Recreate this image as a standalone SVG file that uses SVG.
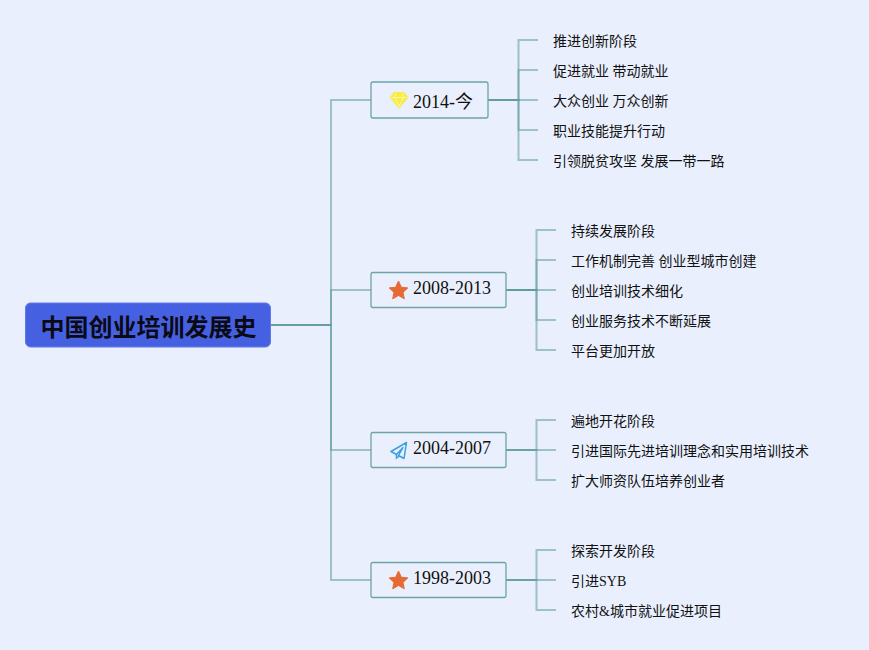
<svg xmlns="http://www.w3.org/2000/svg" width="869" height="650" viewBox="0 0 869 650">
<style>
.c{fill:none;stroke:#5f9a9c;stroke-opacity:.55;stroke-width:2}
.box{fill:#e9effd;stroke:#6da4a8;stroke-width:1.3}
.year{font-family:"Liberation Serif","Noto Sans CJK SC",serif;font-size:18px;fill:#111}
.leaf{font-family:"Liberation Serif","Noto Sans CJK SC",serif;font-size:14px;fill:#111}
.star{fill:#e76a35;stroke:#e76a35;stroke-width:1;stroke-linejoin:round}
</style>
<defs>
<polygon id="star" class="star" points="0,-9.500 2.900,-3.200 9.300,-2.600 4.500,1.900 5.800,8.300 0,5 -5.800,8.300 -4.500,1.900 -9.300,-2.600 -2.900,-3.200"/>
</defs>
<rect width="869" height="650" fill="#e9effd"/>
<g id="connectors">
<path class="c" d="M271 325H331V100H371"/>
<path class="c" d="M271 325H331V290H371"/>
<path class="c" d="M271 325H331V450H371"/>
<path class="c" d="M271 325H331V580H371"/>
<path class="c" d="M488 100H518.500V40H538"/>
<path class="c" d="M488 100H518.500V70H538"/>
<path class="c" d="M488 100H538"/>
<path class="c" d="M488 100H518.500V130H538"/>
<path class="c" d="M488 100H518.500V160H538"/>
<path class="c" d="M506 290H536.500V230H556"/>
<path class="c" d="M506 290H536.500V260H556"/>
<path class="c" d="M506 290H556"/>
<path class="c" d="M506 290H536.500V320H556"/>
<path class="c" d="M506 290H536.500V350H556"/>
<path class="c" d="M506 450H536.500V420H556"/>
<path class="c" d="M506 450H556"/>
<path class="c" d="M506 450H536.500V480H556"/>
<path class="c" d="M506 580H536.500V550H556"/>
<path class="c" d="M506 580H556"/>
<path class="c" d="M506 580H536.500V610H556"/>
</g>
<g id="root">
<rect x="25.500" y="303" width="245" height="44" rx="5" fill="#4660e2" stroke="#6379e8" stroke-width="1"/>
<text x="148.500" y="336" text-anchor="middle" font-family="'Liberation Sans','Noto Sans CJK SC',sans-serif" font-size="24" font-weight="700" fill="#0a0a14">中国创业培训发展史</text>
</g>
<g id="n2014">
<rect class="box" x="371" y="82" width="117" height="36" rx="2"/>
<path d="M394 92H404L408.500 97.500L399 108.500L389.500 97.500Z" fill="#f6ec45"/>
<path d="M391 97.500H407M396 93L394.500 97.500L399 106.500L403.500 97.500L402 93" fill="none" stroke="#fdf9b5" stroke-width=".8"/>
<text class="year" x="413" y="108">2014-今</text>
</g>
<g id="n2008">
<rect class="box" x="371" y="272.500" width="135" height="35" rx="2"/>
<use href="#star" x="398.500" y="290.500"/>
<text class="year" x="413" y="294">2008-2013</text>
</g>
<g id="n2004">
<rect class="box" x="371" y="432.500" width="135" height="35" rx="2"/>
<path d="M406.500 442.500L391 451.500L396.500 454.500L403 447.500L398.500 455.500L404 458.500Z" fill="none" stroke="#3d9fe0" stroke-width="1.500" stroke-linejoin="round"/>
<path d="M396.500 454.500V458L399.500 456" fill="none" stroke="#3d9fe0" stroke-width="1.500"/>
<text class="year" x="413" y="454">2004-2007</text>
</g>
<g id="n1998">
<rect class="box" x="371" y="562.500" width="135" height="35" rx="2"/>
<use href="#star" x="398.500" y="580.500"/>
<text class="year" x="413" y="584">1998-2003</text>
</g>
<g id="leaves">
<text class="leaf" x="553" y="46">推进创新阶段</text>
<text class="leaf" x="553" y="76">促进就业 带动就业</text>
<text class="leaf" x="553" y="106">大众创业 万众创新</text>
<text class="leaf" x="553" y="136">职业技能提升行动</text>
<text class="leaf" x="553" y="166">引领脱贫攻坚 发展一带一路</text>
<text class="leaf" x="571" y="236">持续发展阶段</text>
<text class="leaf" x="571" y="266">工作机制完善 创业型城市创建</text>
<text class="leaf" x="571" y="296">创业培训技术细化</text>
<text class="leaf" x="571" y="326">创业服务技术不断延展</text>
<text class="leaf" x="571" y="356">平台更加开放</text>
<text class="leaf" x="571" y="426">遍地开花阶段</text>
<text class="leaf" x="571" y="456">引进国际先进培训理念和实用培训技术</text>
<text class="leaf" x="571" y="486">扩大师资队伍培养创业者</text>
<text class="leaf" x="571" y="556">探索开发阶段</text>
<text class="leaf" x="571" y="586">引进SYB</text>
<text class="leaf" x="571" y="616">农村&amp;城市就业促进项目</text>
</g>
</svg>
